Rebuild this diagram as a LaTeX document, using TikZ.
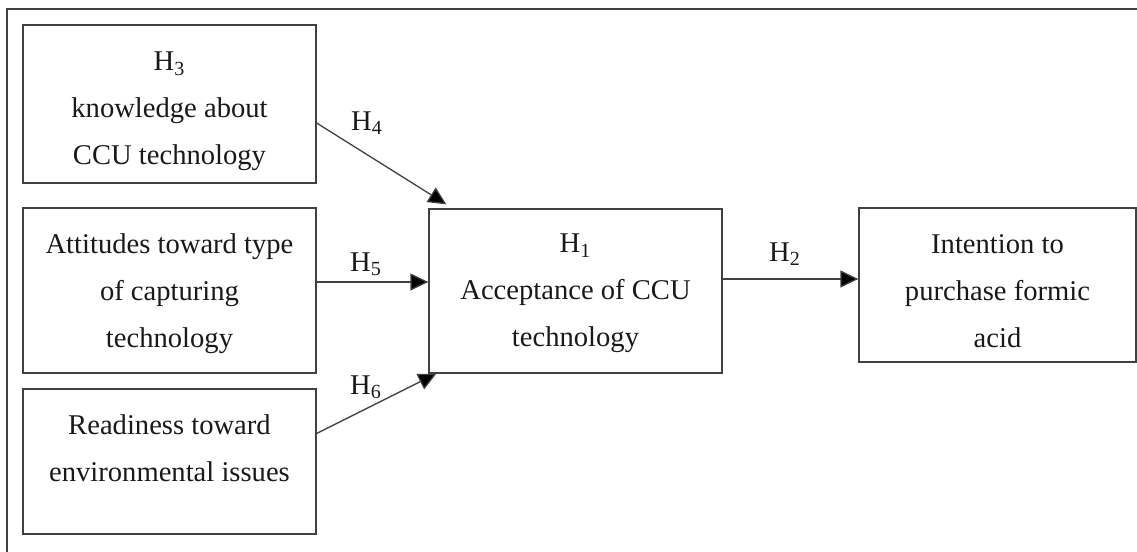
\documentclass[tikz,border=0pt]{standalone}
\usepackage{fontspec}
\setmainfont{Liberation Serif}
\usetikzlibrary{arrows.meta,positioning,calc}

\begin{document}
\begin{tikzpicture}[x=0.5pt, y=-0.5pt, line width=0.65pt,
  >={Triangle[length=9pt,width=8.5pt,fill=black]},
  font=\fontsize{14.3}{23.5}\selectfont,
  box/.style={draw=black!75, inner sep=0pt},
  txt/.style={align=center, inner sep=0pt, text=black!90},
  lbl/.style={inner sep=0pt, text=black!90},
  link/.style={->, draw=black!75},
  frame/.style={draw=black!75}]
\def\px{0.5pt}
\useasboundingbox (0,0) rectangle (1137,552);
\draw[frame] (7,552) -- (7,9) -- (1137,9);

% boxes
\node[box, minimum width=293*\px, minimum height=158*\px] (know) at (169.5,104) {};
\node[box, minimum width=293*\px, minimum height=165*\px] (att) at (169.5,290.5) {};
\node[box, minimum width=293*\px, minimum height=145*\px] (ready) at (169.5,461.5) {};
\node[box, minimum width=293*\px, minimum height=164*\px] (accept) at (575.5,291) {};
\node[box, minimum width=277*\px, minimum height=154*\px] (intent) at (997.5,285) {};

% texts
\node[txt] (knowT) at (169.5,111.5) {H\textsubscript{3}\\knowledge about\\CCU technology};
\node[txt] (attT) at (169.5,293.5) {Attitudes toward type\\of capturing\\technology};
\node[txt] (readyT) at (169.5,448) {Readiness toward\\environmental issues};
\node[txt] (acceptT) at (575.5,293.5) {H\textsubscript{1}\\Acceptance of CCU\\technology};
\node[txt] (intentT) at (997.5,291) {Intention to\\purchase formic\\acid};

% connectors
\coordinate (h4s) at ($(know.east)+(0,19)$);
\coordinate (h4e) at ($(accept.north west)+(18,-4)$);
\coordinate (h5s) at ($(att.east)+(0,-8.5)$);
\coordinate (h6s) at ($(ready.east)+(0,-28)$);
\coordinate (h6e) at ($(accept.south west)+(8,0)$);
\coordinate (h2s) at ($(accept.east)+(0,-12)$);
\draw[link] (h4s) -- (h4e);
\draw[link] (h5s) -- (h5s -| accept.west);
\draw[link] (h6s) -- (h6e);
\draw[link] (h2s) -- (h2s -| intent.west);

% path labels
\node[lbl] (h4) at (367,123) {H\textsubscript{4}};
\node[lbl] (h5) at (366,264) {H\textsubscript{5}};
\node[lbl] (h6) at (366,387) {H\textsubscript{6}};
\node[lbl] (h2) at (785,254) {H\textsubscript{2}};
\end{tikzpicture}
\end{document}
